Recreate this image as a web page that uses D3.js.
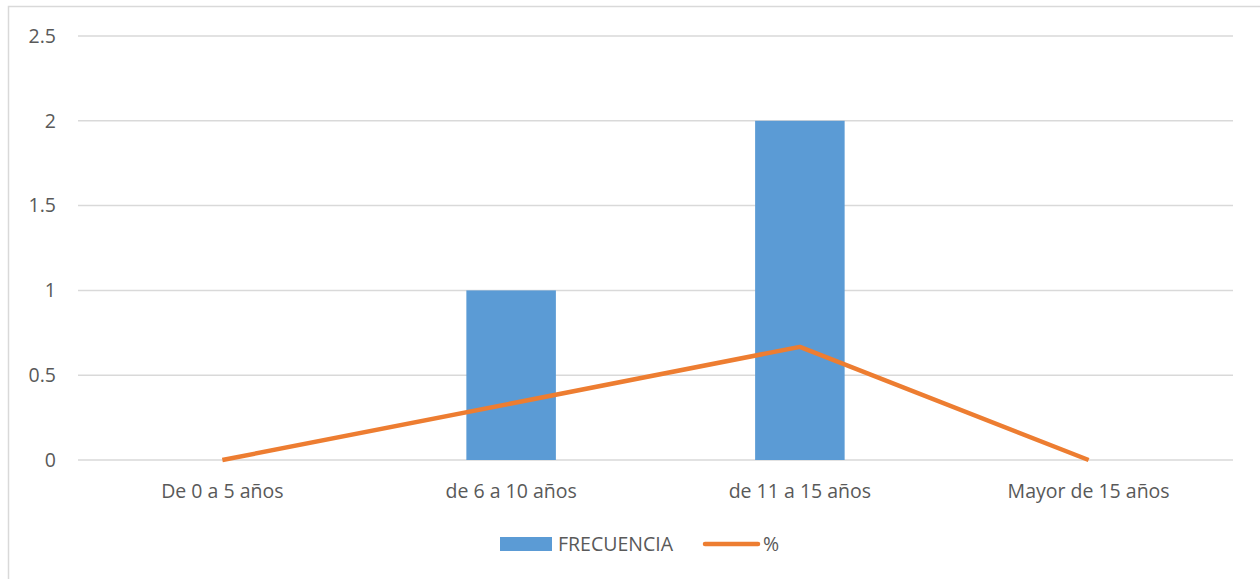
<!DOCTYPE html>
<html>
<head>
<meta charset="utf-8">
<script src="https://cdn.jsdelivr.net/npm/d3@7"></script>
<style>
  body { margin: 0; background: #fff; }
  svg { display: block; font-family: "Open Sans", sans-serif; }
</style>
</head>
<body>
<div id="chart"></div>
<script>
(function () {

  // Data
  const categories = ["De 0 a 5 años", "de 6 a 10 años", "de 11 a 15 años", "Mayor de 15 años"]
  const frecuencia = [0, 1, 2, 0]
  const porcentaje = [0, 0.333, 0.667, 0]
  const yTicks = [0, 0.5, 1, 1.5, 2, 2.5]

  const W = 1260, H = 579
  const margin = { top: 36, right: 27, bottom: 119, left: 78 }
  const width = W - margin.left - margin.right
  const height = H - margin.top - margin.bottom
  const fs = 19.5

  const svg = d3.select("#chart").append("svg")
      .attr("width", W)
      .attr("height", H)

  // Chart frame
  svg.append("rect")
    .attr("x", 8.5).attr("y", 6.5)
    .attr("width", W + 10).attr("height", H + 10)
    .attr("fill", "none")
    .attr("stroke", "#d9d9d9")
    .attr("stroke-width", 1.5)

  const g = svg.append("g")
      .attr("transform", "translate(" + margin.left + "," + margin.top + ")")

  const x = d3.scaleBand().domain(categories).range([0, width])
  const y = d3.scaleLinear().domain([0, 2.5]).range([height, 0])

  // Grid lines
  g.selectAll(".grid")
    .data(yTicks)
    .join("line")
    .attr("x1", 0).attr("x2", width)
    .attr("y1", d => y(d)).attr("y2", d => y(d))
    .attr("stroke", "#d9d9d9")
    .attr("stroke-width", 1.5)

  // Y labels
  g.selectAll(".ylab")
    .data(yTicks)
    .join("text")
    .attr("x", -22)
    .attr("y", d => y(d))
    .attr("dy", "0.35em")
    .attr("text-anchor", "end")
    .attr("fill", "#595959")
    .attr("font-size", fs)
    .text(d => d)

  // X labels
  g.selectAll(".xlab")
    .data(categories)
    .join("text")
    .attr("x", d => x(d) + x.bandwidth() / 2)
    .attr("y", height + 38)
    .attr("text-anchor", "middle")
    .attr("fill", "#595959")
    .attr("font-size", fs)
    .text(d => d)

  // Bars
  const barW = x.bandwidth() * 0.31
  g.selectAll(".bar")
    .data(frecuencia)
    .join("rect")
    .attr("x", (d, i) => x(categories[i]) + x.bandwidth() / 2 - barW / 2)
    .attr("y", d => y(d))
    .attr("width", barW)
    .attr("height", d => height - y(d))
    .attr("fill", "#5b9bd5")

  // Line
  const line = d3.line()
    .x((d, i) => x(categories[i]) + x.bandwidth() / 2)
    .y(d => y(d))
  g.append("path")
    .datum(porcentaje)
    .attr("d", line)
    .attr("fill", "none")
    .attr("stroke", "#ed7d31")
    .attr("stroke-width", 4.5)
    .attr("stroke-linejoin", "round")

  // Legend
  const leg = svg.append("g").attr("transform", "translate(500,544)")
  leg.append("rect")
    .attr("x", 0).attr("y", -7)
    .attr("width", 52).attr("height", 14)
    .attr("fill", "#5b9bd5")
  leg.append("text")
    .attr("x", 58).attr("y", 0).attr("dy", "0.35em")
    .attr("fill", "#595959").attr("font-size", fs)
    .text("FRECUENCIA")
  leg.append("line")
    .attr("x1", 205).attr("x2", 258)
    .attr("y1", 0).attr("y2", 0)
    .attr("stroke", "#ed7d31")
    .attr("stroke-width", 4.5)
    .attr("stroke-linecap", "round")
  leg.append("text")
    .attr("x", 263).attr("y", 0).attr("dy", "0.35em")
    .attr("fill", "#595959").attr("font-size", fs)
    .text("%")

})();
</script>
</body>
</html>
